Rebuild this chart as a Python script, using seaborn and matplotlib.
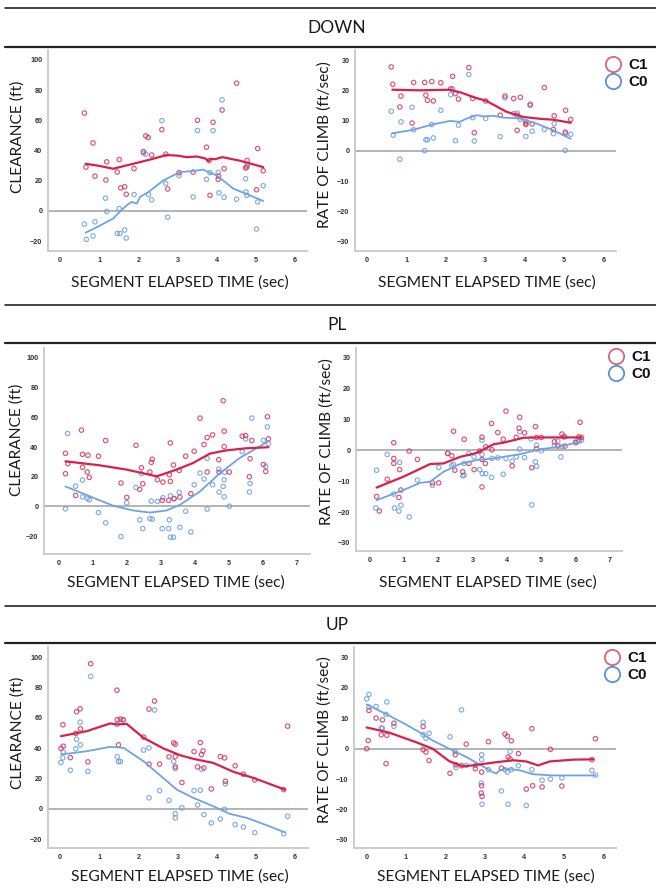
import matplotlib
matplotlib.use("Agg")
import matplotlib.pyplot as plt
from matplotlib.lines import Line2D
import seaborn as sns
import numpy as np

# ---------------- DATA ----------------
sections = ["DOWN", "PL", "UP"]
groups = ["C1", "C0"]
x_label = "SEGMENT ELAPSED TIME (sec)"
y_label_left = "CLEARANCE (ft)"
y_label_right = "RATE OF CLIMB (ft/sec)"

# DOWN - clearance
down_clr_c1_x = [0.62,0.66,0.84,0.89,1.17,1.19,1.46,1.51,1.55,1.65,1.69,1.89,2.13,2.19,2.25,2.34,2.60,2.70,2.75,3.04,3.40,3.51,3.74,3.83,3.81,3.91,4.04,4.05,4.14,4.19,4.51,4.74,4.78,4.77,5.02,5.05,5.19]
down_clr_c1_y = [64.8,29,45,23,20.4,32.5,25.7,34,15.2,16,11,28,39.3,49.7,48.6,37,53.8,37.6,14.5,25.3,25.7,60,42.2,10.3,33.4,58.7,20.9,23,66.8,27.9,84.6,28.4,33.4,29,14,41.3,26.6]
down_clr_c0_x = [0.62,0.67,0.84,0.89,1.16,1.19,1.46,1.53,1.51,1.65,1.69,1.89,2.13,2.19,2.26,2.34,2.60,2.70,2.75,3.04,3.40,3.51,3.74,3.83,3.91,4.04,4.06,4.14,4.19,4.51,4.74,4.75,4.77,4.78,5.05,5.02,5.19]
down_clr_c0_y = [-8.8,-18.9,-16.7,-7.3,8.4,-0.4,-15,-15,1.5,-12.7,-18,10.8,38.2,37.6,10.8,7.3,59.8,18.2,-4.2,23.3,9.2,53.2,20.9,25.3,53.2,25.5,11.9,73.6,9,7.7,21.3,12.5,10.3,30.1,5.9,-12,16.7]
down_clr_c1_fit_x = [0.65,1.0,1.36,1.6,1.87,2.3,2.72,3.0,3.23,3.5,3.7,3.79,3.85,3.95,4.15,4.6,5.19]
down_clr_c1_fit_y = [31.2,29.8,27.9,29.5,31.2,34.0,37.0,36.6,35.6,36.0,34.8,33.0,34.5,34.2,35.6,33.2,29.0]
down_clr_c0_fit_x = [0.65,1.0,1.36,1.55,1.70,1.83,1.96,2.04,2.26,2.64,3.06,3.40,3.66,3.79,4.0,4.43,5.19]
down_clr_c0_fit_y = [-14.5,-10.0,-5.0,0.0,3.7,5.9,4.8,9.2,12.5,20.2,25.7,26.4,27.3,25.7,23.5,14.7,6.6]

# DOWN - rate of climb
down_roc_c1_x = [0.61,0.65,0.86,0.83,1.14,1.18,1.46,1.49,1.53,1.64,1.68,1.87,2.17,2.12,2.24,2.32,2.58,2.68,2.72,3.01,3.38,3.50,3.72,3.81,3.81,3.89,4.03,4.03,4.14,4.19,4.50,4.73,4.75,5.03,5.04,5.17]
down_roc_c1_y = [27.7,22,18.1,14.5,9.2,22.6,22.6,18.4,16.7,22.9,16.5,22.5,24.6,20.5,18.9,17.1,27.5,17.3,6,16.5,11.8,18.1,17.3,6.8,11.8,17.7,9.2,8.7,15.1,8.9,20.9,7.1,11.6,6.2,13.4,10.4]
down_roc_c0_x = [0.61,0.66,0.86,0.83,1.14,1.18,1.46,1.49,1.53,1.64,1.68,1.87,2.12,2.17,2.24,2.32,2.58,2.68,2.72,3.01,3.38,3.50,3.72,3.81,3.89,4.03,4.03,4.14,4.19,4.50,4.73,4.75,5.03,5.04,5.17]
down_roc_c0_y = [13.1,5.2,9.6,-2.7,14.4,7,0.1,3.7,3.7,8.7,4.3,13.4,18.6,20.5,3.4,8.5,25.2,11,3.3,10.7,4.7,17.5,12.3,12.5,10.4,9.7,4.8,15.5,6.5,7.1,5.7,9,0.2,5.7,5.5]
down_roc_c1_fit_x = [0.64,1.34,2.10,2.40,2.69,3.03,3.54,3.97,4.40,4.73,5.17]
down_roc_c1_fit_y = [20.2,20.0,20.2,19.2,17.8,16.5,12.9,11.2,10.6,10.3,9.3]
down_roc_c0_fit_x = [0.64,1.17,1.68,2.10,2.35,2.53,2.78,2.95,3.20,3.46,3.88,4.31,4.73,5.17]
down_roc_c0_fit_y = [5.8,7.0,8.8,9.9,9.6,10.7,11.8,11.4,11.6,11.0,10.7,9.0,6.8,4.0]

# PL - clearance
pl_clr_c1_x = [0.21,0.21,0.28,0.68,0.71,0.71,0.85,0.87,0.91,0.51,1.18,1.39,1.84,2.01,2.28,2.39,2.44,2.48,2.69,2.73,2.76,2.91,3.05,3.07,3.24,3.26,3.29,3.29,3.38,3.40,3.55,3.57,3.74,3.89,3.99,4.16,4.28,4.37,4.37,4.53,4.71,4.72,4.84,4.87,4.87,5.02,5.40,5.50,5.63,5.68,5.61,6.02,6.09,6.14,6.17]
pl_clr_c1_y = [35.8,22.1,28.8,51.4,35.1,26.4,23.2,34.5,19.6,7.4,33.8,44.4,15.8,6.1,41.2,11.5,26.1,15.3,23.2,29.7,31.8,18,4.1,16.4,4.1,21.4,16.9,42.8,27.9,5.2,24.3,6.3,33.8,8.6,37.2,59.5,41.7,46.4,23.2,48.2,31.5,23,71.2,50.7,40.3,23.2,47.3,47.7,32.2,44.4,20,28.2,23.6,60.4,45.5]
pl_clr_c0_x = [0.21,0.27,0.51,0.71,0.71,0.85,0.91,1.18,1.39,1.84,2.01,2.28,2.39,2.44,2.48,2.69,2.73,2.76,2.91,3.05,3.07,3.24,3.26,3.29,3.29,3.38,3.40,3.55,3.57,3.74,3.89,3.99,4.16,4.28,4.37,4.37,4.53,4.71,4.72,4.84,4.87,4.87,5.02,4.89,5.40,5.50,5.61,5.63,5.68,6.02,6.09,6.14,6.17]
pl_clr_c0_y = [-1.6,49.1,13.7,17.8,6.5,5.4,4.5,-4.1,-11,-20.3,2.5,12.8,-9,22.1,-14.9,-8.1,3.6,-8.6,3.4,-14.9,5.9,-14.9,-9,-20.7,7.2,-20.7,5.4,9.5,-14,-3.2,-17.1,14.6,22.5,18.5,32.4,-1.8,14.6,25.2,9.7,13.5,18,6.5,0.2,23,36.9,45.5,9.7,15.5,59.5,44.6,27,53.6,42.3]
pl_clr_c1_fit_x = [0.21,1.22,2.01,2.89,3.47,3.96,4.45,4.94,5.53,6.17]
pl_clr_c1_fit_y = [30.4,27.7,24.8,20.3,24.8,29.3,35.6,37.8,39.2,39.9]
pl_clr_c0_fit_x = [0.21,0.93,1.61,2.20,2.69,3.18,3.57,4.16,4.75,5.33,6.17]
pl_clr_c0_fit_y = [13.5,6.8,0.5,-2.7,-4.1,-2.7,1.1,10.1,22.5,32.7,43.9]

# PL - rate of climb
pl_roc_c1_x = [0.21,0.29,0.52,0.71,0.71,0.71,0.86,0.88,0.92,1.16,1.40,1.84,2.02,2.28,2.40,2.45,2.49,2.72,2.76,2.90,3.05,3.21,3.28,3.28,3.28,3.38,3.39,3.56,3.57,3.74,3.90,3.98,4.16,4.28,4.38,4.36,4.52,4.73,4.84,4.87,4.87,5.01,5.39,5.49,5.61,5.66,5.70,6.01,6.10,6.14,6.18]
pl_roc_c1_y = [-15,-19.7,-9.4,-2.7,-4.3,2.4,-15.3,-6.3,-12.9,-0.3,-3,-10.6,-10.6,-1.1,-1.8,6.1,-6.5,-7,3.5,-4.3,-6.3,-0.3,-11.9,4.2,-3,-4.3,1.1,8.6,0.1,5.7,3.5,12.6,-5.1,4.1,10.6,7.1,5.6,-5.7,7.6,4.1,0.4,4.1,2.7,1.3,5.2,4.3,1.3,2.4,4.3,9,4.1]
pl_roc_c0_x = [0.21,0.19,0.52,0.71,0.73,0.86,0.88,0.92,1.16,1.40,1.84,2.02,2.28,2.40,2.45,2.72,2.76,2.76,2.90,3.05,3.21,3.28,3.28,3.29,3.39,3.56,3.57,3.74,3.90,3.98,4.16,4.28,4.38,4.38,4.52,4.71,4.73,4.84,4.87,4.87,5.01,5.39,5.49,5.58,5.61,5.70,6.01,6.10,6.18]
pl_roc_c0_y = [-6.5,-18.7,-1.4,-14.2,-18.7,-19.7,-4,-17.8,-21.6,-9.7,-11.4,-5.6,-0.9,-5,-4.6,-8.3,-8.1,-4.3,-1.1,-2.2,-6.3,-1.4,3.2,-7.6,-7.6,-8.8,-2.7,-2.5,-7.8,-2.7,-3.6,-2.2,5.9,0.3,-2.4,3.6,-17.7,-3.8,-5.2,1.6,-0.2,1.4,2.9,-2.2,1.1,4.3,2.7,2.8,3.2]
pl_roc_c1_fit_x = [0.21,0.99,1.77,2.16,2.64,3.13,3.62,3.91,4.49,4.88,6.18]
pl_roc_c1_fit_y = [-12.1,-8.6,-4.5,-4.3,-2.2,-0.9,1.9,2.4,4.0,4.1,4.1]
pl_roc_c0_fit_x = [0.21,0.99,1.48,1.77,2.16,2.64,3.13,3.62,4.39,4.98,5.56,6.18]
pl_roc_c0_fit_y = [-16.2,-12.9,-10.6,-10.2,-7.0,-4.5,-3.2,-2.7,-1.3,0.3,1.1,2.9]

# UP - clearance
up_clr_c1_x = [0.02,0.07,0.08,0.26,0.40,0.42,0.51,0.52,0.71,0.78,1.45,1.46,1.49,1.54,1.61,2.13,2.27,2.27,2.41,2.54,2.78,2.90,2.94,2.94,2.94,3.11,3.42,3.51,3.58,3.61,3.65,3.67,3.86,4.09,4.20,4.22,4.47,4.68,4.97,5.71,5.81]
up_clr_c1_y = [39.8,55.4,41.3,33.8,49.7,64,65.9,52.7,31,95.6,78.2,58.7,42.2,59.1,58.7,47.3,65.7,29.5,71,29.5,34.3,43.5,42.6,34.5,27.7,17.4,37.8,27.7,43.7,35.8,38.2,27,13.2,34.5,33.6,18.2,28.4,22.9,19.1,12.7,54.5]
up_clr_c0_x = [0.02,0.07,0.08,0.26,0.40,0.42,0.51,0.52,0.71,0.78,1.45,1.46,1.49,1.54,1.61,2.13,2.27,2.27,2.41,2.54,2.78,2.90,2.94,2.94,2.94,3.11,3.42,3.51,3.58,3.61,3.67,3.86,4.09,4.20,4.22,4.47,4.68,4.97,5.71,5.81]
up_clr_c0_y = [30.5,33.6,37.4,25.5,39.6,45.9,57.1,42.2,24.8,87.3,55.6,34.3,31.2,31.2,58.7,38.7,40.2,7.3,65.1,12.1,5.7,31.2,26.6,-3.1,-5.9,0.7,12.1,2.6,12.3,26.2,-3.7,-9.2,-6.6,-0.2,16.5,-10.3,-11.9,-15.6,-16.3,-4.8]
up_clr_c1_fit_x = [0.02,0.68,1.28,1.45,1.70,2.13,2.64,3.06,3.40,3.91,4.43,4.94,5.74]
up_clr_c1_fit_y = [47.9,51.2,56.3,55.6,56.0,46.8,39.8,35.4,33.0,30.3,24.4,20.4,12.7]
up_clr_c0_fit_x = [0.02,0.68,1.28,1.62,2.13,2.55,2.98,3.40,3.91,4.34,4.77,5.28,5.74]
up_clr_c0_fit_y = [35.8,38.0,40.9,40.2,31.4,22.2,12.7,7.3,1.8,-3.3,-5.9,-10.8,-15.4]

# UP - rate of climb
up_roc_c1_x = [0.01,0.05,0.07,0.25,0.38,0.41,0.52,0.50,0.70,1.44,1.44,1.51,1.59,2.12,2.25,2.27,2.41,2.53,2.76,2.92,2.92,2.91,2.93,3.09,3.42,3.51,3.57,3.59,3.64,3.67,3.85,4.05,4.19,4.21,4.45,4.66,4.95,5.71,5.80]
up_roc_c1_y = [0,2.7,12.6,10.1,4.6,9.5,4.4,-4.9,8.4,7.3,-0.3,-1.1,-3.9,-8.1,-2,-5.3,-5.6,1.5,-6.6,-7.7,-12.2,-14.6,-15.7,2.3,-6.4,4.8,4.1,-2.7,-3.4,2.6,-1.6,-13.3,6.6,-12.2,-12.6,-0.2,-12.3,-3.6,3.3]
up_roc_c0_x = [0.01,0.07,0.07,0.25,0.38,0.41,0.52,0.50,0.70,1.44,1.44,1.51,1.59,2.12,2.25,2.27,2.41,2.53,2.76,2.92,2.92,2.91,2.93,3.09,3.42,3.51,3.57,3.59,3.64,3.67,3.85,4.05,4.19,4.45,4.66,4.95,5.71,5.80]
up_roc_c0_y = [16.4,17.9,13.7,13.9,6.8,6.7,15.4,11.3,7.4,8.7,4.6,3.4,5.1,3.9,-0.9,-6.2,12.8,-5.5,-5.5,-2,-3.6,-11.3,-18.3,-6.9,-13.9,-6.9,-7.7,-18.3,-0.9,-6.9,-5.6,-18.7,-6.9,-10.4,-10,-9.6,-7.1,-8.7]
up_roc_c1_fit_x = [0.01,0.58,1.25,1.68,2.10,2.44,2.69,3.20,3.71,4.05,4.35,4.64,5.24,5.75]
up_roc_c1_fit_y = [7.0,5.3,2.2,0.0,-4.1,-5.8,-5.5,-4.6,-3.8,-4.2,-5.5,-4.2,-3.6,-3.5]
up_roc_c0_fit_x = [0.01,0.49,1.00,1.42,1.68,2.10,2.53,2.95,3.20,3.29,3.37,3.54,3.88,4.22,4.73,5.80]
up_roc_c0_fit_y = [14.6,11.5,8.0,4.9,2.7,0.0,-2.7,-5.8,-7.7,-8.2,-7.1,-6.6,-7.1,-8.4,-8.8,-8.8]

# ---------------- STYLE ----------------
RED_LINE = "#d8204a"
RED_PT = "#d83460"
BLUE_LINE = "#6ea4e2"
BLUE_PT = "#6b9fe0"
LEG_RED = "#e0607f"
LEG_BLUE = "#5a90da"

sns.set_theme(style="white")
plt.rcParams["font.family"] = ["Lato", "DejaVu Sans"]

W, H = 656, 888
fig = plt.figure(figsize=(W / 100, H / 100), dpi=100)
fig.patch.set_facecolor("white")


def add_ax(x0, y0, x1, y1):
    return fig.add_axes([x0 / W, 1 - y1 / H, (x1 - x0) / W, (y1 - y0) / H])


panels = [
    ((48, 50, 307, 251), (-0.31, 6.31), (-26.6, 106.6), range(0, 7), range(-20, 101, 20),
     (down_clr_c1_x, down_clr_c1_y, down_clr_c0_x, down_clr_c0_y,
      down_clr_c1_fit_x, down_clr_c1_fit_y, down_clr_c0_fit_x, down_clr_c0_fit_y)),
    ((355, 50, 616, 251), (-0.31, 6.32), (-33.0, 33.3), range(0, 7), range(-30, 31, 10),
     (down_roc_c1_x, down_roc_c1_y, down_roc_c0_x, down_roc_c0_y,
      down_roc_c1_fit_x, down_roc_c1_fit_y, down_roc_c0_fit_x, down_roc_c0_fit_y)),
    ((44, 348, 310, 554), (-0.42, 7.39), (-32.0, 106.7), range(0, 8), range(-20, 101, 20),
     (pl_clr_c1_x, pl_clr_c1_y, pl_clr_c0_x, pl_clr_c0_y,
      pl_clr_c1_fit_x, pl_clr_c1_fit_y, pl_clr_c0_fit_x, pl_clr_c0_fit_y)),
    ((356, 348, 622, 551), (-0.39, 7.36), (-32.6, 33.0), range(0, 8), range(-30, 31, 10),
     (pl_roc_c1_x, pl_roc_c1_y, pl_roc_c0_x, pl_roc_c0_y,
      pl_roc_c1_fit_x, pl_roc_c1_fit_y, pl_roc_c0_fit_x, pl_roc_c0_fit_y)),
    ((48, 647, 308, 848), (-0.31, 6.33), (-25.7, 106.6), range(0, 7), range(-20, 101, 20),
     (up_clr_c1_x, up_clr_c1_y, up_clr_c0_x, up_clr_c0_y,
      up_clr_c1_fit_x, up_clr_c1_fit_y, up_clr_c0_fit_x, up_clr_c0_fit_y)),
    ((354, 647, 616, 848), (-0.31, 6.32), (-32.7, 33.5), range(0, 7), range(-30, 31, 10),
     (up_roc_c1_x, up_roc_c1_y, up_roc_c0_x, up_roc_c0_y,
      up_roc_c1_fit_x, up_roc_c1_fit_y, up_roc_c0_fit_x, up_roc_c0_fit_y)),
]

axes = []
for rect, xl, yl, xt, yt, d in panels:
    ax = add_ax(*rect)
    c1x, c1y, c0x, c0y, f1x, f1y, f0x, f0y = d
    ax.axhline(0, color="#a8a8a8", lw=1.2, zorder=1)
    ax.scatter(c0x, c0y, s=10, facecolors="none", edgecolors=BLUE_PT, linewidths=0.85, alpha=0.85, zorder=3)
    ax.scatter(c1x, c1y, s=10, facecolors="none", edgecolors=RED_PT, linewidths=0.85, alpha=0.85, zorder=3)
    sns.lineplot(x=f0x, y=f0y, sort=False, color=BLUE_LINE, lw=1.3, ax=ax, zorder=4)
    sns.lineplot(x=f1x, y=f1y, sort=False, color=RED_LINE, lw=1.6, ax=ax, zorder=4)
    ax.set_xlim(*xl)
    ax.set_ylim(*yl)
    ax.set_xticks(list(xt))
    ax.set_yticks(list(yt))
    ax.tick_params(axis="both", length=0, pad=4, labelsize=5.2, colors="#333333")
    for lab in ax.get_xticklabels() + ax.get_yticklabels():
        lab.set_fontweight("bold")
        lab.set_family(["Liberation Sans", "DejaVu Sans"])
    for s in ["top", "right"]:
        ax.spines[s].set_visible(False)
    for s in ["left", "bottom"]:
        ax.spines[s].set_color("#c8c8c8")
        ax.spines[s].set_linewidth(1.3)
    ax.set_xlabel("")
    ax.set_ylabel("")
    ax.grid(False)
    axes.append(ax)


def ftext(x, y, s, **kw):
    fig.text(x / W, 1 - y / H, s, **kw)


label_kw = dict(fontsize=11.2, color="#1a1a1a", ha="center", va="center")
for cx, cy in [(180, 283), (487, 283), (176, 583), (488, 583), (180, 877), (486, 877)]:
    ftext(cx, cy, x_label, **label_kw)
ftext(18, 137, y_label_left, rotation=90, **label_kw)
ftext(325, 145, y_label_right, rotation=90, **label_kw)
ftext(17, 440, y_label_left, rotation=90, **label_kw)
ftext(327, 442, y_label_right, rotation=90, **label_kw)
ftext(18, 733, y_label_left, rotation=90, **label_kw)
ftext(325, 740, y_label_right, rotation=90, **label_kw)

for title, (ty, l1, l2) in zip(sections, [(28, 8, 47), (325, 305, 343), (625, 606, 643)]):
    ftext(337, ty, title, fontsize=12.5, color="#1a1a1a", ha="center", va="center")
    fig.add_artist(Line2D([5 / W, 1], [1 - l1 / H] * 2, color="#111111", lw=1.1))
    fig.add_artist(Line2D([5 / W, 1], [1 - l2 / H] * 2, color="#222222", lw=1.6))

handles = [Line2D([], [], marker="o", ls="none", markersize=11, markerfacecolor="none",
                  markeredgecolor=LEG_RED, markeredgewidth=1.3),
           Line2D([], [], marker="o", ls="none", markersize=11, markerfacecolor="none",
                  markeredgecolor=LEG_BLUE, markeredgewidth=1.3)]
for ax, (lx, ly) in zip([axes[1], axes[3], axes[5]], [(605, 58), (608, 350), (604, 651)]):
    leg = ax.legend(handles, groups, loc="upper left", bbox_to_anchor=(lx / W, 1 - ly / H),
                    bbox_transform=fig.transFigure, frameon=False, handlelength=1.0,
                    handletextpad=0.5, labelspacing=0.2, borderpad=0, borderaxespad=0,
                    prop={"family": ["Liberation Sans", "DejaVu Sans"], "weight": "bold", "size": 11})
    for t in leg.get_texts():
        t.set_color("#111111")

fig.savefig("out.png", dpi=100, facecolor="white")
